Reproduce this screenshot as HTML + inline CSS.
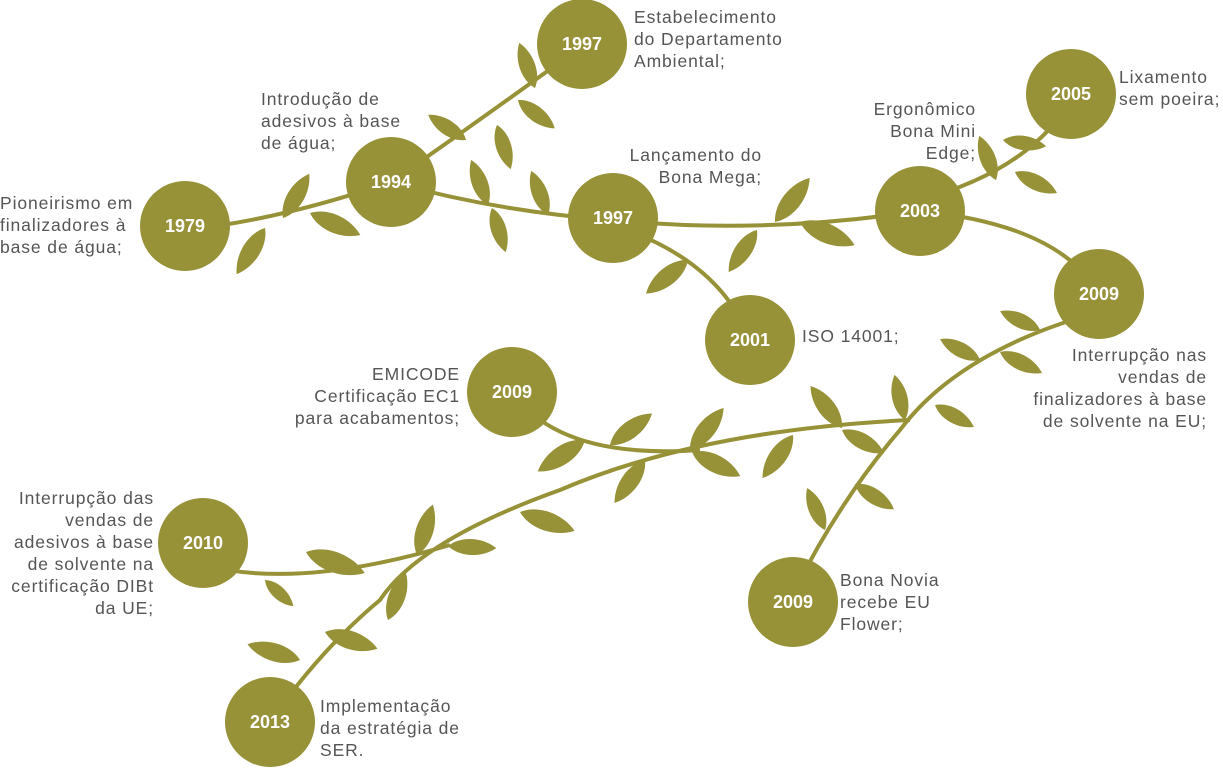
<!DOCTYPE html>
<html><head><meta charset="utf-8"><style>
body{margin:0;background:#fff;width:1223px;height:770px;overflow:hidden;position:relative;font-family:"Liberation Sans",sans-serif}
svg{position:absolute;left:0;top:0}
.t{position:absolute;color:#555;font-size:17.5px;line-height:22px;letter-spacing:0.9px}
.r{text-align:right}
</style></head><body>
<svg id="s" width="1223" height="770" viewBox="0 0 1223 770">
<g fill="none" stroke="#979137" stroke-width="4">
<path d="M185 230 Q280 220 391 182"/>
<path d="M391 182 Q480 120 560 62"/>
<path d="M391 182 Q500 212 613 220 Q760 235 920 211"/>
<path d="M613 225 Q720 260 750 340"/>
<path d="M920 200 Q1030 170 1071 100"/>
<path d="M920 211 Q1060 225 1099 294"/>
<path d="M1099 312 Q960 350 900 430 Q840 500 795 590"/>
<path d="M910 420 Q700 430 560 490 Q420 540 380 600 Q320 650 270 722"/>
<path d="M512 392 Q560 460 700 450"/>
<path d="M203 565 Q300 590 450 545"/>
</g>
<g id="leaves" fill="#979137"></g>
<g fill="#979137">
<circle cx="185" cy="226" r="45"/><circle cx="391" cy="182" r="45"/><circle cx="582" cy="44" r="45"/>
<circle cx="613" cy="218" r="45"/><circle cx="750" cy="340" r="45"/><circle cx="920" cy="211" r="45"/>
<circle cx="1071" cy="94" r="45"/><circle cx="1099" cy="294" r="45"/><circle cx="512" cy="392" r="45"/>
<circle cx="203" cy="543" r="45"/><circle cx="793" cy="602" r="45"/><circle cx="270" cy="722" r="45"/>
</g>
<g fill="#fff" font-family="Liberation Sans" font-weight="bold" font-size="18" text-anchor="middle">
<text x="185" y="232">1979</text><text x="391" y="188">1994</text><text x="582" y="50">1997</text>
<text x="613" y="224">1997</text><text x="750" y="346">2001</text><text x="920" y="217">2003</text>
<text x="1071" y="100">2005</text><text x="1099" y="300">2009</text><text x="512" y="398">2009</text>
<text x="203" y="549">2010</text><text x="793" y="608">2009</text><text x="270" y="728">2013</text>
</g>
</svg>
<div class="t" style="left:0;top:192px">Pioneirismo em<br>finalizadores à<br>base de água;</div>
<div class="t" style="left:261px;top:88px">Introdução de<br>adesivos à base<br>de água;</div>
<div class="t" style="left:634px;top:6px">Estabelecimento<br>do Departamento<br>Ambiental;</div>
<div class="t r" style="right:461px;top:144px">Lançamento do<br>Bona Mega;</div>
<div class="t" style="left:802px;top:325px">ISO 14001;</div>
<div class="t r" style="right:247px;top:98px">Ergonômico<br>Bona Mini<br>Edge;</div>
<div class="t" style="left:1119px;top:66px">Lixamento<br>sem poeira;</div>
<div class="t r" style="right:16px;top:344px">Interrupção nas<br>vendas de<br>finalizadores à base<br>de solvente na EU;</div>
<div class="t r" style="right:763px;top:363px">EMICODE<br>Certificação EC1<br>para acabamentos;</div>
<div class="t r" style="right:1069px;top:487px">Interrupção das<br>vendas de<br>adesivos à base<br>de solvente na<br>certificação DIBt<br>da UE;</div>
<div class="t" style="left:840px;top:569px">Bona Novia<br>recebe EU<br>Flower;</div>
<div class="t" style="left:320px;top:695px">Implementação<br>da estratégia de<br>SER.</div>
<script>
var L=[[265,228,238,272],[283,218,308,176],[310,213,358,234],[466,140,430,116],[497,125,510,167],[518,100,553,127],[535,88,520,45],
[488,205,472,162],[492,208,505,250],[548,215,532,173],[775,222,808,180],[800,222,852,244],[757,230,730,270],[688,260,648,292],
[996,180,980,138],[1003,140,1044,146],[1015,172,1055,192],[1040,330,1002,312],[980,360,942,340],[1000,352,1040,372],
[905,420,895,377],[935,405,972,426],[842,428,812,388],[842,430,882,452],[793,435,764,476],[855,484,892,508],[825,530,808,490],
[690,450,722,410],[692,452,738,475],[610,445,650,415],[585,440,540,470],[645,460,616,501],[520,512,572,530],[417,555,432,507],
[448,546,494,548],[306,552,362,572],[265,580,292,605],[388,620,405,575],[325,632,375,648],[300,660,250,645]];
var g=document.getElementById('leaves'),h='';
L.forEach(function(a){var dx=a[2]-a[0],dy=a[3]-a[1],l=Math.hypot(dx,dy)*1.05,an=Math.atan2(dy,dx)*180/Math.PI,w=l*0.22;
h+='<path transform="translate('+a[0]+' '+a[1]+') rotate('+an+')" d="M0 0 C'+(l*0.25)+' '+(-w)+' '+(l*0.7)+' '+(-w)+' '+l+' 0 C'+(l*0.7)+' '+w+' '+(l*0.25)+' '+w+' 0 0Z"/>';});
g.innerHTML=h;
</script>
</body></html>
